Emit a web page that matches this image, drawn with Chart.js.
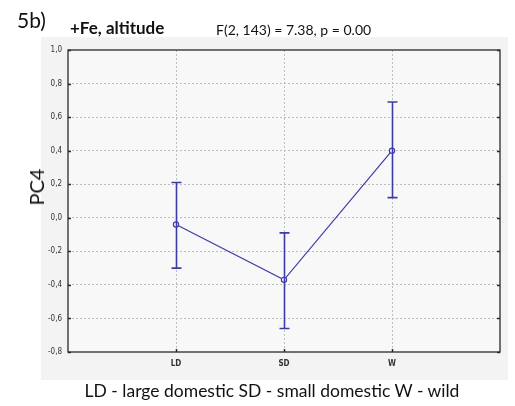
<!DOCTYPE html>
<html>
<head>
<meta charset="utf-8">
<script src="https://cdn.jsdelivr.net/npm/chart.js@4"></script>
<style>
    html, body { margin: 0; padding: 0; background: #fff; }
    #wrap { position: relative; width: 515px; height: 406px; font-family: Lato, "Open Sans", sans-serif; color: #111; }
    #panel { position: absolute; left: 41px; top: 37px; width: 467px; height: 343px; background: #f3f3f3; }
    #chart { position: absolute; left: 0; top: 0; }
    .txt { position: absolute; white-space: nowrap; line-height: 1; }
    #tag { left: 17px; top: 9px; font-size: 21px; }
    #sub { left: 70px; top: 19px; font-size: 17px; font-weight: bold; }
    #stat { left: 216px; top: 23px; font-size: 14px; }
    #ylab { left: 36px; top: 187px; font-size: 20px; transform: translate(-50%, -50%) rotate(-90deg); }
    #caption { left: 272px; top: 382px; font-size: 17.5px; transform: translateX(-50%); }
</style>
</head>
<body>
<div id="wrap">
    <div id="panel"></div>
    <canvas id="chart" width="515" height="406"></canvas>
    <div class="txt" id="tag">5b)</div>
    <div class="txt" id="sub">+Fe, altitude</div>
    <div class="txt" id="stat">F(2, 143) = 7.38, p = 0.00</div>
    <div class="txt" id="ylab">PC4</div>
    <div class="txt" id="caption">LD - large domestic SD - small domestic W - wild</div>
</div>
<script>
const categories = ['LD', 'SD', 'W'];
const means = [-0.04, -0.37, 0.40];
const upper = [0.21, -0.09, 0.69];
const lower = [-0.30, -0.66, 0.12];
const yTicks = [-0.8, -0.6, -0.4, -0.2, 0.0, 0.2, 0.4, 0.6, 0.8, 1.0];

const LINE = '#3c3ca6';

// plot background, frame, inner tick marks and whiskers
const framePlugin = {
    id: 'frame',
    beforeDraw(chart) {
        const { ctx, chartArea: a } = chart;
        ctx.save();
        ctx.fillStyle = '#f8f8f8';
        ctx.fillRect(a.left, a.top, a.right - a.left, a.bottom - a.top);
        ctx.restore();
    },
    afterDatasetsDraw(chart) {
        const { ctx, chartArea: a, scales } = chart;
        const xs = scales.x, ys = scales.y;
        ctx.save();
        ctx.strokeStyle = '#2a2a2a';
        ctx.lineWidth = 1.3;
        ctx.strokeRect(a.left, a.top, a.right - a.left, a.bottom - a.top);

        ctx.lineWidth = 1.5;
        ctx.beginPath();
        yTicks.forEach(v => {
            const y = Math.round(ys.getPixelForValue(v)) + 0.5;
            ctx.moveTo(a.left, y); ctx.lineTo(a.left + 3, y);
            ctx.moveTo(a.right, y); ctx.lineTo(a.right - 3, y);
        });
        categories.forEach((c, i) => {
            const x = Math.round(xs.getPixelForValue(i + 1)) + 0.5;
            ctx.moveTo(x, a.bottom); ctx.lineTo(x, a.bottom - 3);
        });
        ctx.stroke();

        // whiskers
        ctx.strokeStyle = LINE;
        ctx.lineWidth = 1.6;
        ctx.beginPath();
        categories.forEach((c, i) => {
            const x = Math.round(xs.getPixelForValue(i + 1)) + 0.5;
            const yt = ys.getPixelForValue(upper[i]);
            const yb = ys.getPixelForValue(lower[i]);
            ctx.moveTo(x, yt); ctx.lineTo(x, yb);
            ctx.moveTo(x - 5, yt); ctx.lineTo(x + 5, yt);
            ctx.moveTo(x - 5, yb); ctx.lineTo(x + 5, yb);
        });
        ctx.stroke();
        ctx.restore();
    }
};

new Chart(document.getElementById('chart'), {
    type: 'line',
    data: {
        datasets: [{
            data: means.map((m, i) => ({ x: i + 1, y: m })),
            borderColor: LINE,
            borderWidth: 1.2,
            pointRadius: 2.6,
            pointBorderWidth: 1.2,
            pointBackgroundColor: '#ffffff',
            pointBorderColor: LINE,
            tension: 0
        }]
    },
    options: {
        responsive: false,
        animation: false,
        layout: { padding: { left: 0, top: 50, right: 15, bottom: 0 } },
        plugins: {
            legend: { display: false },
            tooltip: { enabled: false }
        },
        scales: {
            x: {
                type: 'linear',
                min: 0,
                max: 4,
                afterFit(scale) { scale.height = 54; },
                afterBuildTicks(scale) {
                    scale.ticks = [0, 1, 2, 3, 4].map(v => ({ value: v }));
                },
                border: { display: false, dash: [2, 2] },
                grid: {
                    color: c => (c.tick && c.tick.value > 0 && c.tick.value < 4) ? '#bdbdbd' : 'rgba(0,0,0,0)',
                    lineWidth: 1,
                    drawTicks: false
                },
                ticks: {
                    padding: 7,
                    color: '#333',
                    font: { family: 'DejaVu Sans Condensed', size: 8, weight: 'bold' },
                    callback: v => categories[v - 1] || ''
                }
            },
            y: {
                min: -0.8,
                max: 1.0,
                afterFit(scale) { scale.width = 68; },
                afterBuildTicks(scale) {
                    scale.ticks = yTicks.map(v => ({ value: v }));
                },
                border: { display: false, dash: [2, 2] },
                grid: {
                    color: c => (c.tick && c.tick.value > -0.79 && c.tick.value < 0.99) ? '#bdbdbd' : 'rgba(0,0,0,0)',
                    lineWidth: 1,
                    drawTicks: false
                },
                ticks: {
                    padding: 6,
                    color: '#333',
                    font: { family: 'DejaVu Sans Condensed', size: 8 },
                    callback: v => v.toFixed(1).replace('.', ',')
                }
            }
        }
    },
    plugins: [framePlugin]
});
</script>
</body>
</html>
